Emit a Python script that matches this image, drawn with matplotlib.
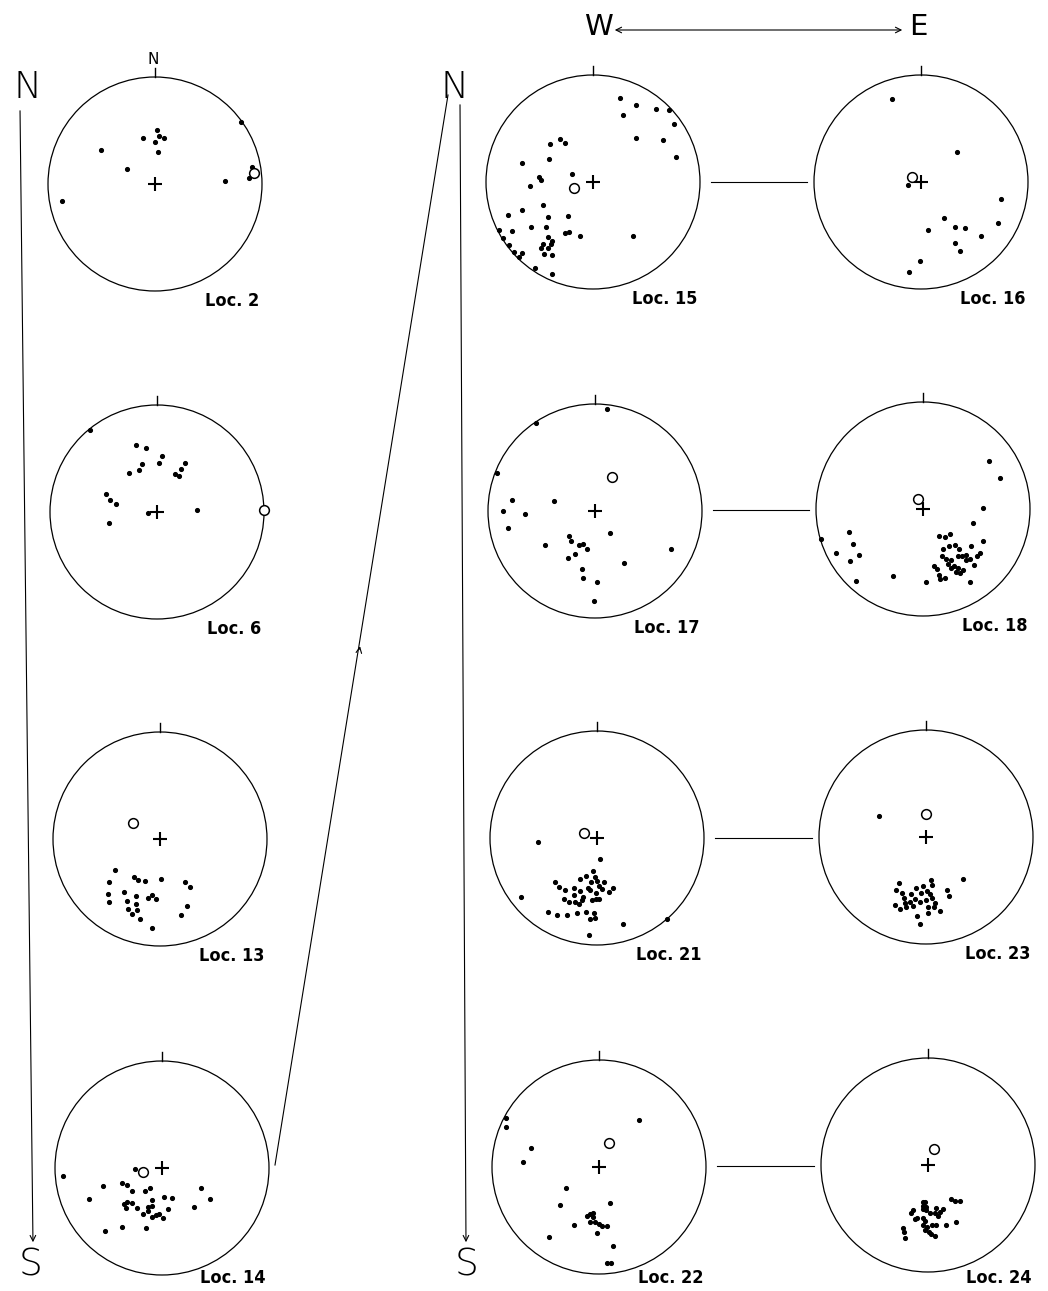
import matplotlib
matplotlib.use('Agg')
import matplotlib.pyplot as plt
from matplotlib.patches import Circle

# Pole positions on each net, in units of the net radius (east, north)
loc2_e = [0.022, 0.037, 0.087, -0.115, 0.0, 0.025, -0.505, -0.263, 0.656, -0.873, 0.802, 0.904, 0.882]
loc2_n = [0.505, 0.452, 0.427, 0.427, 0.393, 0.303, 0.322, 0.136, 0.031, -0.155, 0.582, 0.161, 0.056]
loc2_mean = (0.929, 0.102)

loc6_e = [-0.623, -0.199, -0.1, 0.044, 0.016, -0.143, -0.168, -0.259, 0.265, 0.224, 0.165, 0.202,
          -0.477, -0.436, -0.386, -0.453, -0.081, 0.371]
loc6_n = [0.766, 0.629, 0.595, 0.52, 0.458, 0.452, 0.389, 0.368, 0.458, 0.402, 0.352, 0.333,
          0.171, 0.109, 0.072, -0.1, -0.012, 0.016]
loc6_mean = (1.0, 0.016)

loc13_e = [-0.424, -0.245, -0.207, -0.139, 0.012, -0.477, 0.238, 0.279, -0.337, -0.483, -0.22, -0.077,
           -0.111, -0.04, -0.307, -0.477, -0.22, -0.3, -0.214, -0.26, 0.248, 0.198, -0.183, -0.077]
loc13_n = [-0.294, -0.353, -0.381, -0.393, -0.372, -0.406, -0.406, -0.449, -0.498, -0.514, -0.536, -0.526,
           -0.554, -0.557, -0.576, -0.591, -0.607, -0.65, -0.659, -0.697, -0.622, -0.706, -0.743, -0.836]
loc13_mean = (-0.248, 0.149)

loc14_e = [-0.922, -0.255, -0.547, -0.37, -0.326, -0.28, -0.158, -0.115, 0.36, 0.444, 0.022, 0.093,
           -0.09, -0.357, -0.323, -0.28, -0.339, -0.233, -0.134, -0.096, -0.134, 0.059, 0.301, -0.177,
           -0.093, -0.053, -0.028, 0.006, -0.531, -0.373, -0.149, -0.68]
loc14_n = [-0.078, -0.009, -0.165, -0.14, -0.155, -0.211, -0.211, -0.189, -0.186, -0.286, -0.267, -0.276,
           -0.295, -0.332, -0.317, -0.323, -0.376, -0.373, -0.36, -0.351, -0.404, -0.379, -0.363, -0.432,
           -0.46, -0.441, -0.432, -0.466, -0.593, -0.556, -0.559, -0.286]
loc14_mean = (-0.177, -0.037)

loc15_e = [0.255, 0.404, 0.28, 0.587, 0.711, 0.755, 0.398, 0.655, 0.773, -0.304, -0.258, -0.398,
           -0.407, -0.661, -0.193, -0.509, -0.484, -0.593, -0.469, -0.661, -0.419, -0.236, -0.798, -0.575,
           -0.441, -0.755, -0.261, -0.224, -0.121, 0.373, -0.422, -0.379, -0.394, -0.469, -0.488, -0.422,
           -0.46, -0.385, -0.879, -0.845, -0.786, -0.736, -0.696, -0.665, -0.543, -0.385]
loc15_n = [0.786, 0.724, 0.63, 0.686, 0.674, 0.54, 0.407, 0.388, 0.233, 0.404, 0.36, 0.351,
           0.214, 0.18, 0.078, 0.047, 0.019, -0.034, -0.217, -0.264, -0.326, -0.32, -0.307, -0.422,
           -0.416, -0.46, -0.478, -0.466, -0.5, -0.5, -0.516, -0.556, -0.581, -0.575, -0.618, -0.621,
           -0.674, -0.686, -0.444, -0.525, -0.593, -0.658, -0.699, -0.665, -0.807, -0.863]
loc15_mean = (-0.177, -0.053)

loc16_e = [-0.268, 0.333, -0.118, 0.751, 0.218, 0.318, 0.411, 0.717, 0.062, 0.564, 0.321, 0.368, -0.009, -0.112]
loc16_n = [0.776, 0.283, -0.028, -0.162, -0.34, -0.417, -0.43, -0.386, -0.445, -0.502, -0.57, -0.642, -0.741, -0.841]
loc16_mean = (-0.087, 0.044)

loc17_e = [0.109, -0.551, -0.913, -0.779, -0.386, -0.857, -0.657, -0.81, 0.143, -0.246, -0.224, -0.464,
           -0.153, -0.112, -0.072, -0.184, -0.255, 0.707, 0.271, -0.118, -0.115, 0.016, -0.009]
loc17_n = [0.956, 0.822, 0.358, 0.106, 0.097, -0.003, -0.028, -0.156, -0.206, -0.234, -0.277, -0.318,
           -0.318, -0.308, -0.355, -0.399, -0.436, -0.355, -0.489, -0.542, -0.626, -0.664, -0.838]
loc17_mean = (0.162, 0.315)

loc18_e = [0.618, 0.717, 0.559, 0.469, -0.957, -0.693, -0.658, -0.814, -0.602, -0.683, -0.624, -0.28,
           0.025, 0.152, 0.205, 0.248, 0.183, 0.245, 0.301, 0.339, 0.447, 0.562, 0.174, 0.214,
           0.261, 0.323, 0.36, 0.401, 0.531, 0.509, 0.441, 0.401, 0.475, 0.099, 0.127, 0.236,
           0.286, 0.329, 0.37, 0.307, 0.261, 0.348, 0.149, 0.155, 0.205, 0.438]
loc18_n = [0.444, 0.289, 0.012, -0.134, -0.276, -0.211, -0.323, -0.413, -0.429, -0.488, -0.671, -0.627,
           -0.68, -0.252, -0.264, -0.23, -0.373, -0.342, -0.332, -0.376, -0.345, -0.301, -0.441, -0.463,
           -0.478, -0.438, -0.435, -0.429, -0.41, -0.438, -0.469, -0.472, -0.519, -0.531, -0.562, -0.516,
           -0.534, -0.556, -0.571, -0.587, -0.556, -0.596, -0.621, -0.652, -0.646, -0.686]
loc18_mean = (-0.05, 0.09)

loc21_e = [-0.55, 0.025, -0.034, -0.016, -0.158, -0.102, -0.394, -0.056, 0.003, 0.062, -0.351, -0.298,
           -0.213, -0.161, -0.084, -0.065, 0.016, 0.047, 0.149, 0.109, -0.012, -0.219, -0.127, -0.307,
           -0.258, -0.205, -0.171, -0.137, -0.05, -0.012, 0.022, -0.714, -0.46, -0.376, -0.276, -0.186,
           -0.099, -0.028, -0.062, -0.016, 0.245, 0.658, -0.075]
loc21_n = [-0.04, -0.193, -0.311, -0.36, -0.385, -0.357, -0.407, -0.407, -0.401, -0.407, -0.46, -0.488,
           -0.469, -0.494, -0.463, -0.488, -0.453, -0.475, -0.469, -0.509, -0.516, -0.531, -0.55, -0.568,
           -0.596, -0.596, -0.621, -0.581, -0.575, -0.568, -0.568, -0.556, -0.693, -0.717, -0.717, -0.705,
           -0.693, -0.702, -0.761, -0.748, -0.804, -0.755, -0.91]
loc21_mean = (-0.118, 0.05)

loc23_e = [-0.443, 0.35, -0.248, 0.043, -0.031, 0.056, -0.285, -0.226, -0.093, -0.139, -0.043, 0.009,
           0.037, 0.192, 0.214, -0.21, -0.152, -0.102, -0.056, -0.003, 0.059, -0.195, -0.294, -0.241,
           -0.186, -0.124, 0.015, 0.071, 0.08, 0.133, 0.015, -0.087, -0.059]
loc23_n = [0.198, -0.39, -0.427, -0.402, -0.458, -0.446, -0.492, -0.526, -0.477, -0.529, -0.526, -0.505,
           -0.536, -0.498, -0.551, -0.567, -0.604, -0.582, -0.604, -0.591, -0.573, -0.619, -0.632, -0.669,
           -0.653, -0.641, -0.65, -0.65, -0.613, -0.69, -0.709, -0.737, -0.814]
loc23_mean = (0.0, 0.214)

loc22_e = [-0.873, -0.866, 0.37, -0.637, -0.711, -0.307, -0.36, 0.102, -0.115, -0.087, -0.053, -0.059,
           -0.087, -0.037, -0.003, 0.025, 0.071, -0.23, -0.019, -0.463, 0.134, 0.078, 0.115]
loc22_n = [0.46, 0.376, 0.441, 0.18, 0.043, -0.193, -0.351, -0.332, -0.457, -0.441, -0.429, -0.463,
           -0.516, -0.516, -0.534, -0.556, -0.556, -0.54, -0.615, -0.658, -0.736, -0.901, -0.901]
loc22_mean = (0.093, 0.227)

loc24_e = [0.214, 0.255, 0.295, -0.047, -0.025, -0.047, -0.022, 0.071, 0.137, -0.05, -0.14, -0.022,
           0.109, 0.022, 0.065, -0.155, 0.09, -0.124, -0.043, -0.099, -0.031, 0.261, 0.168, 0.078,
           0.037, -0.05, -0.009, -0.025, 0.009, 0.028, 0.065, -0.236, -0.22, -0.211]
loc24_n = [-0.32, -0.335, -0.335, -0.345, -0.348, -0.379, -0.388, -0.401, -0.407, -0.413, -0.425, -0.419,
           -0.438, -0.45, -0.45, -0.45, -0.481, -0.506, -0.497, -0.497, -0.528, -0.534, -0.559, -0.559,
           -0.562, -0.559, -0.584, -0.612, -0.627, -0.649, -0.661, -0.593, -0.627, -0.683]
loc24_mean = (0.056, 0.152)

R = 107  # net radius in pixels

# label, centre (px), east, north, mean
nets = [
    ('Loc. 2', (155, 184), loc2_e, loc2_n, loc2_mean),
    ('Loc. 6', (157, 512), loc6_e, loc6_n, loc6_mean),
    ('Loc. 13', (160, 839), loc13_e, loc13_n, loc13_mean),
    ('Loc. 14', (162, 1168), loc14_e, loc14_n, loc14_mean),
    ('Loc. 15', (593, 182), loc15_e, loc15_n, loc15_mean),
    ('Loc. 16', (921, 182), loc16_e, loc16_n, loc16_mean),
    ('Loc. 17', (595, 511), loc17_e, loc17_n, loc17_mean),
    ('Loc. 18', (923, 509), loc18_e, loc18_n, loc18_mean),
    ('Loc. 21', (597, 838), loc21_e, loc21_n, loc21_mean),
    ('Loc. 23', (926, 837), loc23_e, loc23_n, loc23_mean),
    ('Loc. 22', (599, 1167), loc22_e, loc22_n, loc22_mean),
    ('Loc. 24', (928, 1165), loc24_e, loc24_n, loc24_mean),
]

fig = plt.figure(figsize=(10.48, 12.91), dpi=100)
ax = fig.add_axes([0, 0, 1, 1])
ax.set_xlim(0, 1048)
ax.set_ylim(1291, 0)
ax.set_aspect('equal')
ax.axis('off')

label_font = dict(family='DejaVu Sans', fontweight='bold', fontstretch='condensed', fontsize=13)

for name, (cx, cy), e, n, mean in nets:
    ax.add_patch(Circle((cx, cy), R, fill=False, ec='black', lw=0.9))
    # north tick
    ax.plot([cx, cx], [cy - R, cy - R - 9], color='black', lw=1.0)
    # centre cross
    ax.plot(cx, cy, marker='+', ms=10, mew=1.5, color='black')
    xs = [cx + R * v for v in e]
    ys = [cy - R * v for v in n]
    ax.plot(xs, ys, 'o', ms=2.7, color='black', mec='black')
    ax.plot(cx + R * mean[0], cy - R * mean[1], 'o', ms=7, mfc='white', mec='black', mew=1.1)
    ax.text(cx + 104, min(cy + 117, 1278), name, ha='right', va='center', **label_font)

# small N above the first net
ax.text(153, 60, 'N', ha='center', va='center', fontsize=11)

# lines joining the west and east nets of each pair
pairs = [(4, 5), (6, 7), (8, 9), (10, 11)]
for a, b in pairs:
    (xa, ya), (xb, yb) = nets[a][1], nets[b][1]
    y = (ya + yb) / 2
    ax.plot([xa + R + 11, xb - R - 7], [y, y], color='black', lw=0.8)

big = dict(fontsize=27, ha='center', va='center', fontweight='light')
ax.text(28, 88, 'N', **big)
ax.text(31, 1265, 'S', **big)
ax.text(455, 88, 'N', **big)
ax.text(466, 1265, 'S', **big)
ax.text(598, 27, 'W', fontsize=21, ha='center', va='center')
ax.text(918, 27, 'E', fontsize=21, ha='center', va='center')

arrow = dict(arrowstyle='->', color='black', lw=0.8, mutation_scale=10)
ax.annotate('', xy=(33, 1245), xytext=(20, 108), arrowprops=arrow)
ax.annotate('', xy=(466, 1245), xytext=(460, 102), arrowprops=arrow)
ax.annotate('', xy=(612, 30), xytext=(905, 30),
            arrowprops=dict(arrowstyle='<->', color='black', lw=0.8, mutation_scale=10))
# line from the south end of the left column up to the north of the right column
ax.plot([275, 448], [1165, 95], color='black', lw=0.8)
ax.annotate('', xy=(359, 652), xytext=(360.5, 643.5),
            arrowprops=dict(arrowstyle='<-', color='black', lw=0.8, mutation_scale=10))

fig.savefig('out.png', dpi=100, facecolor='white')
